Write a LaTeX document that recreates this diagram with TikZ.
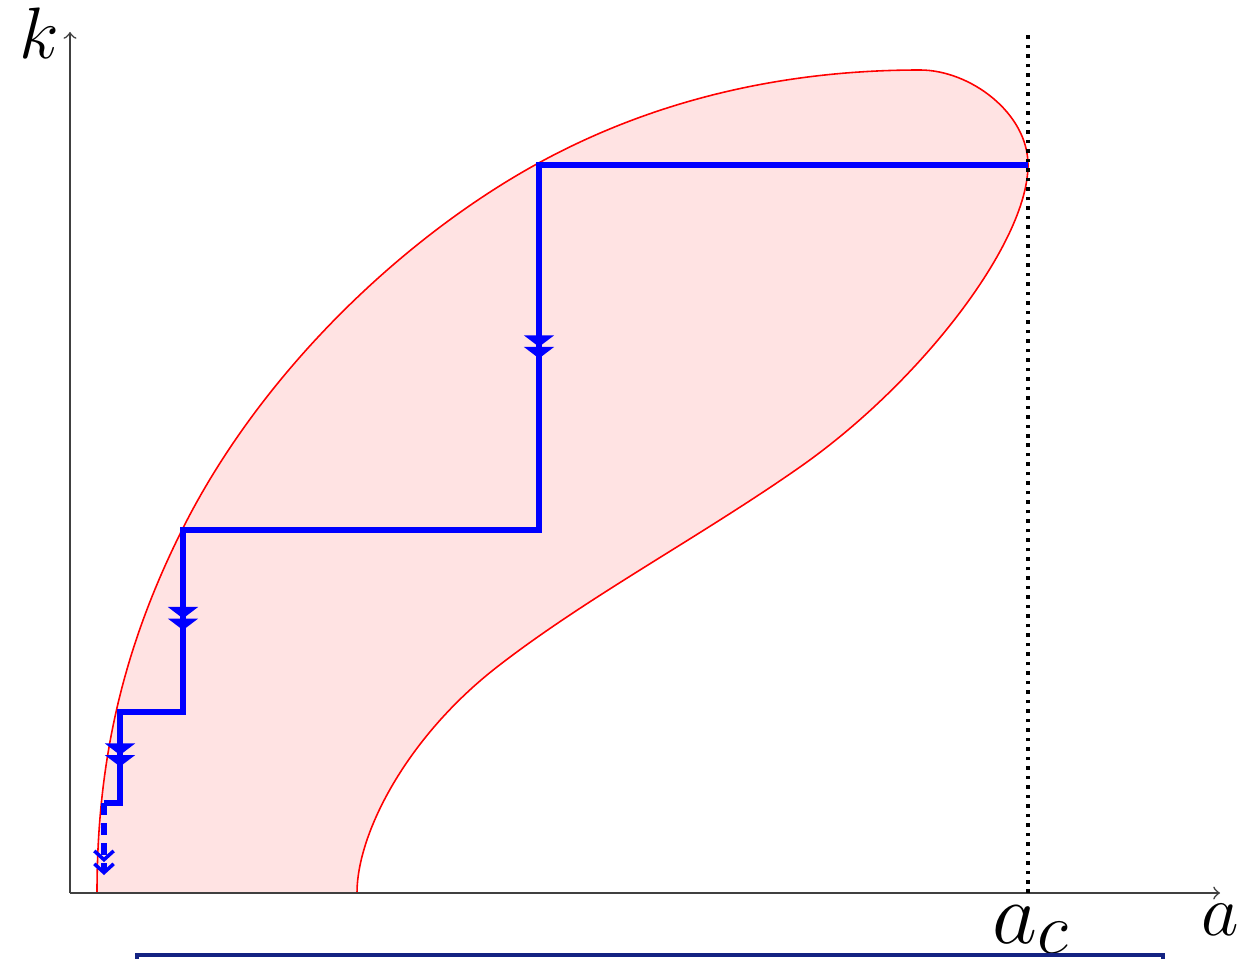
\documentclass[tikz,border=0pt]{standalone}
\usepackage{amsmath}
\usepackage{xcolor}
\usepackage{tikz}
\usetikzlibrary{arrows.meta,decorations.markings,calc}
\definecolor{boxblue}{RGB}{20,35,130}
\tikzstyle{axis}     =[->, >=to, gray!50!black, line width=0.45pt]
\tikzstyle{stair}    =[blue, line width=1.5pt]
\tikzstyle{midarr}   =[blue, line width=1.5pt, postaction={decorate},
                       decoration={markings, mark=at position #1 with
                       {\arrow{Triangle[width=8.5pt,length=3.3pt] Triangle[width=8.5pt,length=3.3pt]}}}]

\begin{document}
\begin{tikzpicture}

  \useasboundingbox (-0.70,-0.65) rectangle (11.83,8.93);

  % ── stable region ─────────────────────────────────────────────────────────
  \filldraw[fill=red!11, draw=red, line width=0.45pt]
    (0.27,0) .. controls (0.27,1.30) and (0.52,2.43) .. (1.12,3.63)
             .. controls (1.92,5.23) and (3.35,6.56) .. (4.65,7.28)
             .. controls (5.95,8.00) and (7.30,8.23) .. (8.50,8.23)
             .. controls (9.00,8.23) and (9.58,7.80) .. (9.58,7.28)
             .. controls (9.58,6.50) and (8.50,5.10) .. (7.30,4.26)
             .. controls (6.30,3.56) and (5.17,2.96) .. (4.27,2.26)
             .. controls (3.37,1.56) and (2.87,0.60) .. (2.87,0);

  % ── axes and labels ───────────────────────────────────────────────────────
  \coordinate (O)    at (0, 0);
  \coordinate (xend) at (11.50, 0);
  \coordinate (yend) at (0, 8.61);
  \coordinate (acbot) at (9.58, 0);
  \coordinate (actop) at (9.58, 8.61);

  \draw[axis] (O) -- (xend);
  \draw[axis] (O) -- (yend);
  \draw[line width=1pt, dash pattern=on 1pt off 1.7pt] (acbot) -- (actop);

  \node[font=\huge, inner sep=0] (klab) at (-0.31, 8.60) {$k$};
  \node[font=\huge, inner sep=0] (alab) at (11.50, -0.27) {$a$};
  \node[inner sep=0, anchor=base west] (aclab) at (9.22, -0.50) {{\Huge$a$}\raisebox{-3pt}{\huge$c$}};

  % ── staircase ─────────────────────────────────────────────────────────────
  \coordinate (s0) at (9.58, 7.28);
  \coordinate (s1) at (4.69, 7.28);
  \coordinate (s2) at (4.69, 3.63);
  \coordinate (s3) at (1.13, 3.63);
  \coordinate (s4) at (1.13, 1.81);
  \coordinate (s5) at (0.50, 1.81);
  \coordinate (s6) at (0.50, 0.90);
  \coordinate (s7) at (0.34, 0.90);
  \coordinate (s8) at (0.34, 0.18);

  \draw[stair] (s0) -- (s1) -- (s2) -- (s3) -- (s4) -- (s5) -- (s6) -- (s7);
  \path[midarr=0.53] (s1) -- (s2);
  \path[midarr=0.55] (s3) -- (s4);
  \path[midarr=0.60] (s5) -- (s6);
  \draw[stair, dash pattern=on 3.4pt off 2.3pt,
        -{Straight Barb[width=5.5pt,length=2.5pt,line width=1pt] Straight Barb[width=5.5pt,length=2.5pt,line width=1pt]}]
        (s7) -- (s8);

  % ── box below ─────────────────────────────────────────────────────────────
  \draw[boxblue, line width=0.9pt] (0.67, -1.5) rectangle (10.93, -0.62);

\end{tikzpicture}
\end{document}
